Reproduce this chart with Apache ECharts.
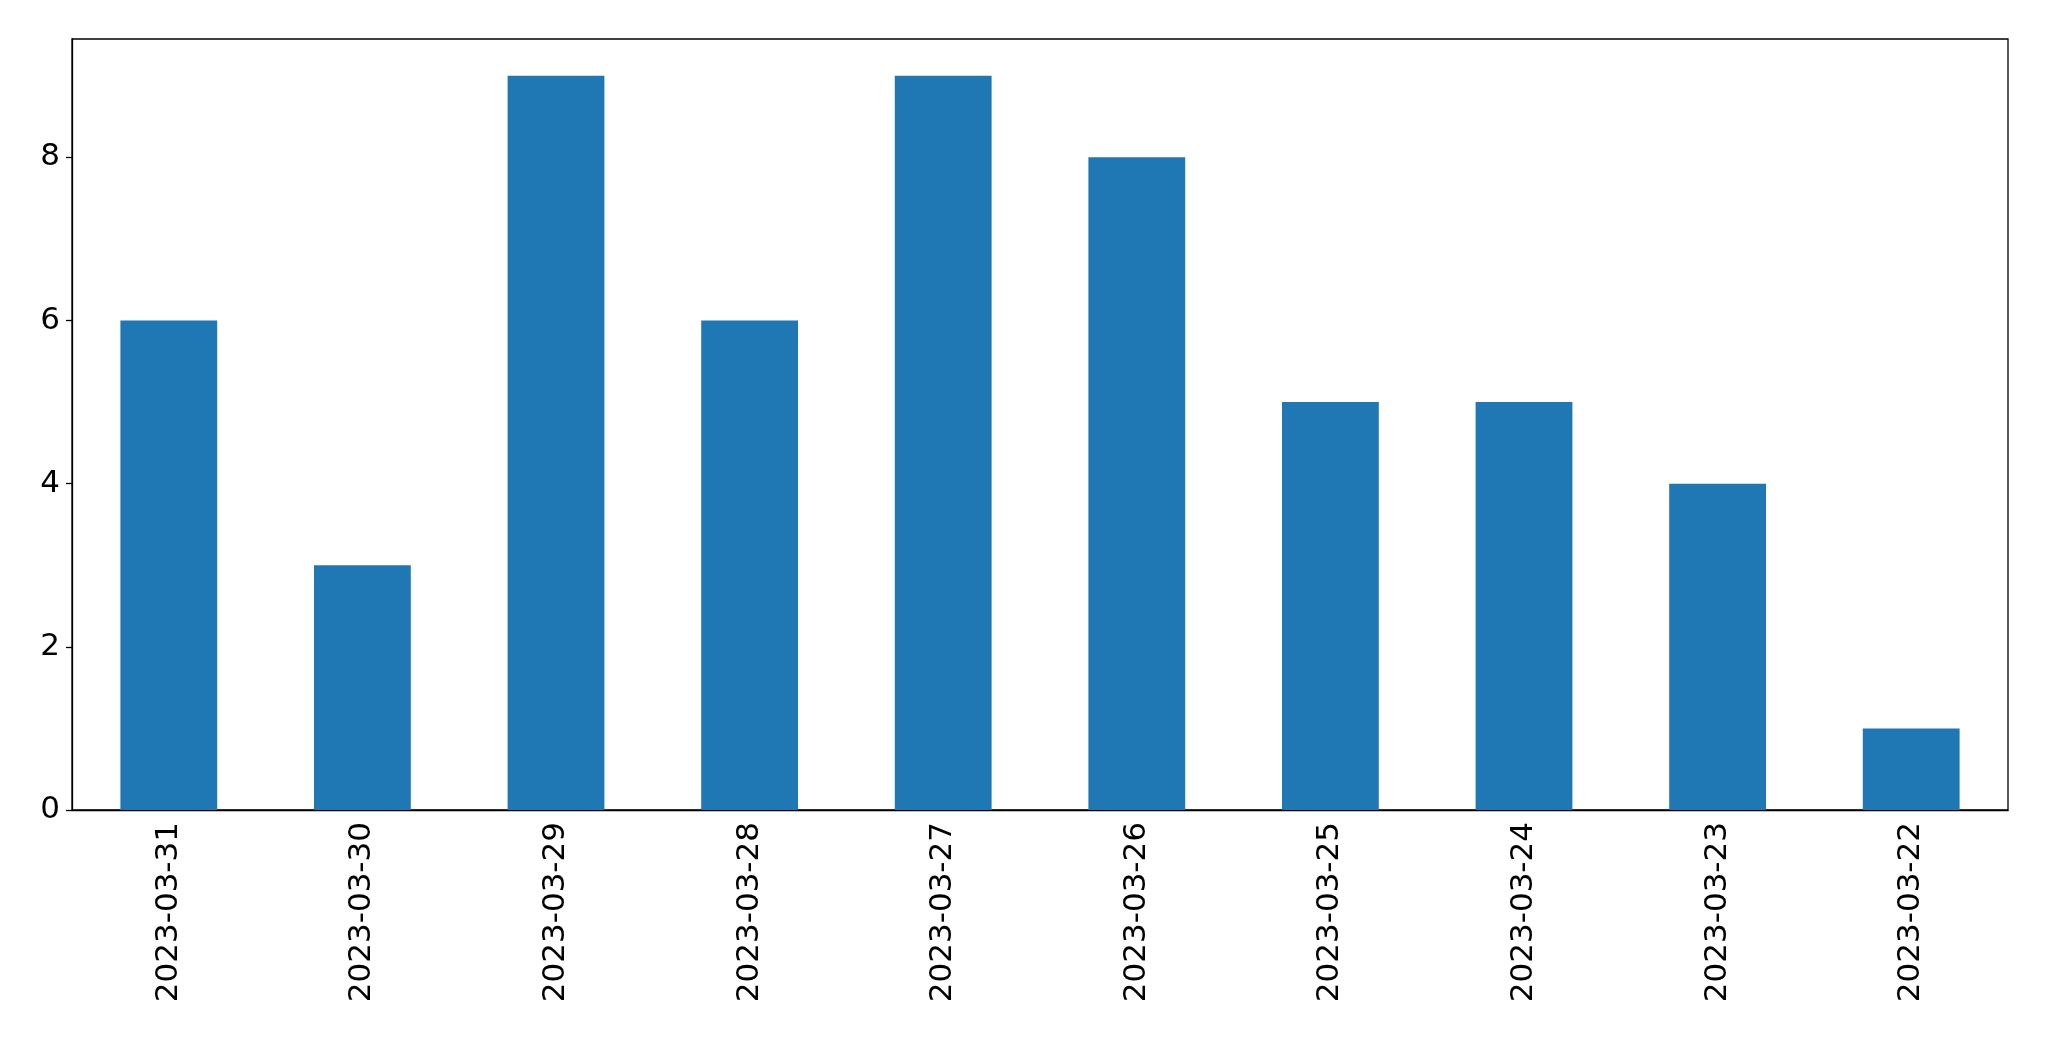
<!DOCTYPE html>
<html>
<head>
<meta charset="utf-8">
<script src="https://cdn.jsdelivr.net/npm/echarts@6/dist/echarts.min.js"></script>
<style>html,body{margin:0;padding:0;background:#fff}#main{width:2049px;height:1061px}</style>
</head>
<body>
<div id="main"></div>
<script>
var categories = ['2023-03-31','2023-03-30','2023-03-29','2023-03-28','2023-03-27','2023-03-26','2023-03-25','2023-03-24','2023-03-23','2023-03-22'];
var counts = [6, 3, 9, 6, 9, 8, 5, 5, 4, 1];

var myChart = echarts.init(document.getElementById('main'));
var font = 'DejaVu Sans';
var option = {
  animation: false,
  grid: {
    left: 72, right: 41, top: 39, bottom: 251,
    show: true, borderColor: '#000', borderWidth: 1.3
  },
  xAxis: {
    type: 'category',
    data: categories,
    axisLine: { lineStyle: { color: '#000', width: 1.3 } },
    axisTick: { alignWithLabel: true, length: 6, lineStyle: { color: '#000', width: 1.3 } },
    axisLabel: { rotate: 90, color: '#000', fontSize: 31, fontFamily: font, margin: 12 }
  },
  yAxis: {
    type: 'value',
    min: 0, max: 9.45, interval: 2,
    splitLine: { show: false },
    axisLine: { show: true, lineStyle: { color: '#000', width: 1.3 } },
    axisTick: { show: true, length: 6, lineStyle: { color: '#000', width: 1.3 } },
    axisLabel: {
      color: '#000', fontSize: 31, fontFamily: font, margin: 12,
      showMaxLabel: false,
      formatter: function (v) { return Number.isInteger(v) ? String(v) : ''; }
    }
  },
  series: [{
    type: 'bar',
    data: counts,
    barWidth: '50%',
    itemStyle: { color: '#1f77b4' }
  }]
};
myChart.setOption(option);
</script>
</body>
</html>
